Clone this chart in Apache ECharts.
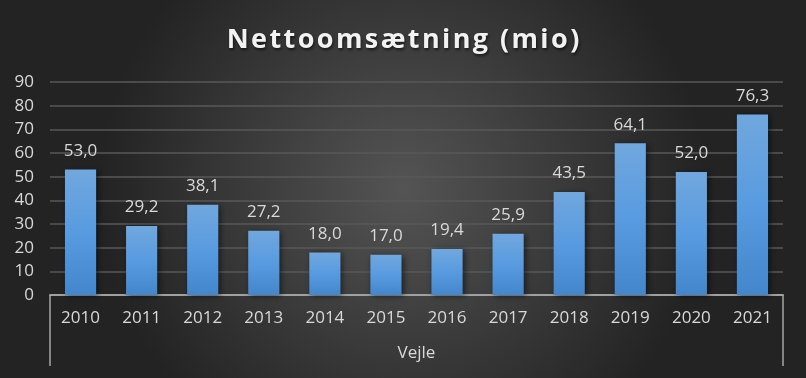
<!DOCTYPE html>
<html>
<head>
<meta charset="utf-8">
<script src="https://cdn.jsdelivr.net/npm/echarts@6/dist/echarts.min.js"></script>
<style>html,body{margin:0;padding:0;background:#333;}#c{width:806px;height:378px;}</style>
</head>
<body>
<div id="c"></div>
<script>
const titleText = 'Nettoomsætning (mio)';
const categories = ['2010','2011','2012','2013','2014','2015','2016','2017','2018','2019','2020','2021'];
const groupLabels = ['Vejle'];
const values = [53.0, 29.2, 38.1, 27.2, 18.0, 17.0, 19.4, 25.9, 43.5, 64.1, 52.0, 76.3];
const yTicks = { min: 0, max: 90, interval: 10 };

const chart = echarts.init(document.getElementById('c'), null, { renderer: 'canvas' });
const font = '"Open Sans", sans-serif';
// letter-spaced title via rich text tokens (one token per character)
const spacedTitle = titleText.split('').map(ch => '{s|' + ch + '}').join('');
chart.setOption({
  backgroundColor: {
    type: 'radial', x: 0.5, y: 0.5, r: 0.8,
    colorStops: [{ offset: 0, color: '#545454' }, { offset: 1, color: '#232323' }]
  },
  animation: false,
  title: {
    text: spacedTitle, left: 'center', top: 22,
    textStyle: {
      color: '#f2f2f2', fontFamily: font, fontWeight: 'bold', fontSize: 27,
      rich: {
        s: {
          color: '#f2f2f2', fontFamily: font, fontWeight: 'bold', fontSize: 27, padding: [0, 1.2],
          textShadowColor: 'rgba(0,0,0,0.6)', textShadowBlur: 3, textShadowOffsetX: 1, textShadowOffsetY: 2
        }
      }
    }
  },
  grid: { left: 50, right: 23, top: 82, bottom: 83, containLabel: false },
  xAxis: [
    {
      type: 'category', data: categories, position: 'bottom',
      axisLine: { show: true, lineStyle: { color: '#a6a6a6', width: 1.5 } },
      axisTick: { show: false },
      axisLabel: { color: '#d9d9d9', fontFamily: font, fontSize: 17, margin: 15 }
    },
    {
      type: 'category', data: groupLabels, position: 'bottom', offset: 0,
      axisLine: { show: true, lineStyle: { color: '#a6a6a6', width: 1.5 } },
      axisTick: { show: true, length: 71, lineStyle: { color: '#a6a6a6', width: 1.5 } },
      axisLabel: { color: '#d9d9d9', fontFamily: font, fontSize: 17, margin: 50 }
    }
  ],
  yAxis: {
    type: 'value', min: yTicks.min, max: yTicks.max, interval: yTicks.interval,
    axisLine: { show: false }, axisTick: { show: false },
    axisLabel: { color: '#d9d9d9', fontFamily: font, fontSize: 17, margin: 16 },
    splitLine: { lineStyle: { color: '#595959', width: 1.5 } }
  },
  series: [{
    type: 'bar', data: values, xAxisIndex: 0, barWidth: '51%',
    itemStyle: {
      color: { type: 'linear', x: 0, y: 0, x2: 0, y2: 1,
        colorStops: [{ offset: 0, color: '#71a7de' }, { offset: 0.5, color: '#589be0' }, { offset: 1, color: '#4486cb' }] },
      shadowColor: 'rgba(0,0,0,0.55)', shadowBlur: 6, shadowOffsetX: 2, shadowOffsetY: 1
    },
    label: {
      show: true, position: 'top', distance: 10, color: '#d9d9d9', fontFamily: font, fontSize: 17,
      formatter: p => p.value.toFixed(1).replace('.', ',')
    }
  }]
});
</script>
</body>
</html>
